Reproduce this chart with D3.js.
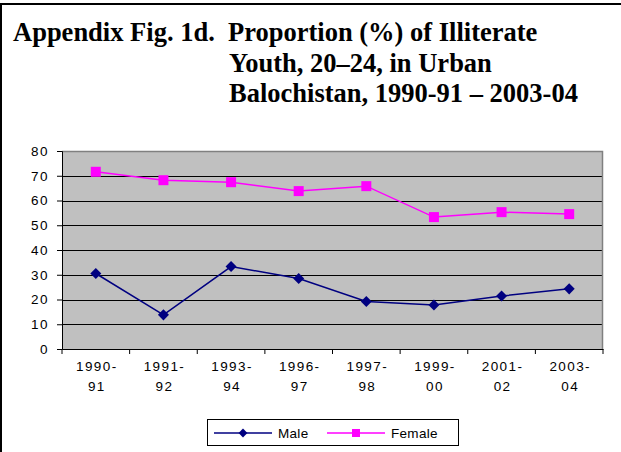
<!DOCTYPE html>
<html>
<head>
<meta charset="utf-8">
<script src="https://cdn.jsdelivr.net/npm/d3@7"></script>
<style>
  body { margin: 0; background: #fff; }
  svg { display: block; }
</style>
</head>
<body>
<div id="chart"></div>
<script>
const categories = ['1990-91', '1991-92', '1993-94', '1996-97', '1997-98', '1999-00', '2001-02', '2003-04'];
const male = [30.5, 13.8, 33.3, 28.5, 19.2, 17.8, 21.4, 24.3];
const female = [71.6, 68.2, 67.4, 63.8, 65.8, 53.3, 55.3, 54.5];
const yTicks = [0, 10, 20, 30, 40, 50, 60, 70, 80];
const titleLines = ['Appendix Fig. 1d.  Proportion (%) of Illiterate', 'Youth, 20\u201324, in Urban', 'Balochistan, 1990-91 \u2013 2003-04'];

const W = 621, H = 452;
const plot = { left: 62, right: 603, top: 151, bottom: 349 };

const svg = d3.select('#chart')
  .append('svg')
  .attr('width', W)
  .attr('height', H);

// outer frame (top and left edges visible)
svg.append('line').attr('x1', 0).attr('x2', W).attr('y1', 4).attr('y2', 4)
  .attr('stroke', '#000').attr('stroke-width', 2);
svg.append('line').attr('x1', 1).attr('x2', 1).attr('y1', 4).attr('y2', H)
  .attr('stroke', '#000').attr('stroke-width', 2);

// title
const title = svg.append('g')
  .attr('font-family', '"Liberation Serif", "Times New Roman", serif')
  .attr('font-weight', 'bold')
  .attr('font-size', 26.5);
title.append('text').attr('x', 13).attr('y', 41).attr('xml:space', 'preserve').text(titleLines[0]);
title.append('text').attr('x', 229).attr('y', 71.5).text(titleLines[1]);
title.append('text').attr('x', 229).attr('y', 102).text(titleLines[2]);

const x = d3.scaleBand()
  .domain(categories)
  .range([plot.left, plot.right]);

const y = d3.scaleLinear()
  .domain([0, 80])
  .range([plot.bottom, plot.top]);

// plot background
svg.append('rect')
  .attr('x', plot.left).attr('y', plot.top)
  .attr('width', plot.right - plot.left).attr('height', plot.bottom - plot.top)
  .attr('fill', '#c0c0c0');

// gridlines
svg.append('g')
  .selectAll('line')
  .data(yTicks.filter((d) => d > 0 && d < 80))
  .join('line')
  .attr('x1', plot.left).attr('x2', plot.right)
  .attr('y1', (d) => Math.round(y(d)) + 0.5).attr('y2', (d) => Math.round(y(d)) + 0.5)
  .attr('stroke', '#000');

// plot border top/right
svg.append('path')
  .attr('d', `M${plot.left},${plot.top + 0.5}H${plot.right - 0.5}V${plot.bottom}`)
  .attr('fill', 'none')
  .attr('stroke', '#808080')
  .attr('stroke-width', 1.5);

// y axis
const yAxis = svg.append('g')
  .attr('transform', `translate(${plot.left},0)`)
  .call(d3.axisLeft(y).tickValues(yTicks).tickSize(5).tickPadding(8));
yAxis.selectAll('text')
  .attr('font-family', 'Arial, "Liberation Sans", sans-serif')
  .attr('font-size', 13.5)
  .attr('letter-spacing', 1.5)
  .attr('fill', '#000');

// x axis
const xAxis = svg.append('g')
  .attr('transform', `translate(0,${plot.bottom})`)
  .call(d3.axisBottom(x).tickSize(0).tickFormat(''));
xAxis.selectAll('.tick').remove();
xAxis.append('g')
  .selectAll('line')
  .data(categories.concat(['end']))
  .join('line')
  .attr('x1', (d, i) => plot.left + i * x.step())
  .attr('x2', (d, i) => plot.left + i * x.step())
  .attr('y1', 0).attr('y2', 5)
  .attr('stroke', '#000');
const xl = xAxis.append('g')
  .attr('font-family', 'Arial, "Liberation Sans", sans-serif')
  .attr('font-size', 13.5)
  .attr('letter-spacing', 1.4)
  .attr('text-anchor', 'middle')
  .attr('fill', '#000');
categories.forEach((c) => {
  const [a, b] = c.split('-');
  const t = xl.append('text').attr('x', x(c) + x.bandwidth() / 2 + 1);
  t.append('tspan').attr('x', x(c) + x.bandwidth() / 2 + 1).attr('y', 22).text(a + '-');
  t.append('tspan').attr('x', x(c) + x.bandwidth() / 2 + 1).attr('y', 42).text(b);
});
svg.selectAll('.domain').attr('stroke', '#000');

const cx = (d, i) => x(categories[i]) + x.bandwidth() / 2;
const line = d3.line().x(cx).y((d) => y(d));

// female series
svg.append('path').datum(female)
  .attr('d', line).attr('fill', 'none')
  .attr('stroke', '#ff00ff').attr('stroke-width', 1.5);
svg.append('g').selectAll('rect').data(female).join('rect')
  .attr('x', (d, i) => cx(d, i) - 5).attr('y', (d) => y(d) - 5)
  .attr('width', 10).attr('height', 10)
  .attr('fill', '#ff00ff');

// male series
const diamond = d3.symbol().type(d3.symbolDiamond2).size(78);
svg.append('path').datum(male)
  .attr('d', line).attr('fill', 'none')
  .attr('stroke', '#000080').attr('stroke-width', 1.5);
svg.append('g').selectAll('path').data(male).join('path')
  .attr('d', diamond)
  .attr('transform', (d, i) => `translate(${cx(d, i)},${y(d)})`)
  .attr('fill', '#000080');

// legend
const legend = svg.append('g');
legend.append('rect')
  .attr('x', 207.5).attr('y', 419.5).attr('width', 251).attr('height', 26)
  .attr('fill', '#fff').attr('stroke', '#000');
const items = [
  { name: 'Male', color: '#000080', x0: 214 },
  { name: 'Female', color: '#ff00ff', x0: 327 }
];
items.forEach((it) => {
  legend.append('line')
    .attr('x1', it.x0).attr('x2', it.x0 + 58).attr('y1', 433).attr('y2', 433)
    .attr('stroke', it.color).attr('stroke-width', 1.5);
  if (it.name === 'Male') {
    legend.append('path').attr('d', d3.symbol().type(d3.symbolDiamond2).size(50))
      .attr('transform', `translate(${it.x0 + 29},433)`).attr('fill', it.color);
  } else {
    legend.append('rect').attr('x', it.x0 + 25).attr('y', 429).attr('width', 8).attr('height', 8)
      .attr('fill', it.color);
  }
  legend.append('text')
    .attr('x', it.x0 + 64).attr('y', 438)
    .attr('font-family', 'Arial, "Liberation Sans", sans-serif')
    .attr('font-size', 13.5)
    .attr('letter-spacing', 0.3)
    .text(it.name);
});
</script>
</body>
</html>
